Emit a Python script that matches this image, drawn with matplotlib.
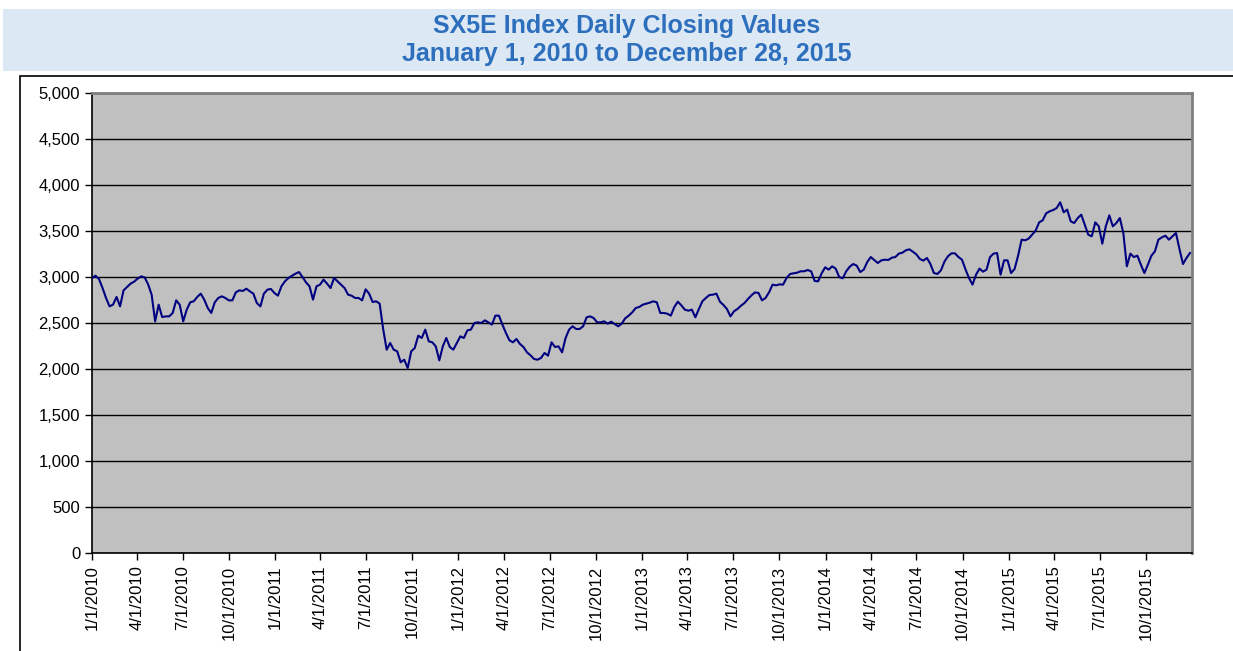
import matplotlib
matplotlib.use("Agg")
import matplotlib.pyplot as plt
import matplotlib.dates as mdates
from matplotlib.patches import Rectangle
from matplotlib.ticker import FuncFormatter, MultipleLocator
import pandas as pd

plt.rcParams['font.family'] = ['Liberation Sans', 'DejaVu Sans']

# weekly closing values, Jan 2010 .. Dec 28 2015
close_2010 = [2989, 3014, 2978, 2880, 2772, 2681, 2700, 2783, 2681, 2855, 2891, 2928, 2949,
              2982, 3007, 2996, 2920, 2808, 2518, 2699, 2565, 2572, 2572, 2609, 2746, 2699,
              2518, 2645, 2725, 2736, 2783, 2819, 2754, 2663, 2609, 2725, 2772, 2790, 2772,
              2746, 2746, 2833, 2855, 2848, 2873, 2844, 2819, 2717, 2681, 2819, 2862, 2870]
close_2011 = [2826, 2797, 2899, 2953, 2989, 3014, 3036, 3054, 3000, 2942, 2899, 2754, 2899,
              2917, 2971, 2928, 2880, 2989, 2953, 2917, 2880, 2808, 2797, 2772, 2772, 2746,
              2866, 2819, 2728, 2736, 2710, 2435, 2210, 2283, 2210, 2192, 2073, 2101, 2011,
              2192, 2228, 2362, 2337, 2428, 2301, 2290, 2246, 2094, 2246, 2337, 2239, 2210]
close_2012 = [2283, 2355, 2337, 2420, 2428, 2500, 2507, 2500, 2529, 2507, 2482, 2580, 2580,
              2482, 2391, 2312, 2290, 2326, 2272, 2239, 2181, 2149, 2109, 2101, 2120, 2174,
              2145, 2290, 2239, 2246, 2181, 2337, 2428, 2464, 2435, 2435, 2464, 2562, 2572,
              2554, 2507, 2507, 2518, 2493, 2514, 2489, 2464, 2493, 2551, 2580, 2616, 2663]
close_2013 = [2674, 2699, 2710, 2721, 2736, 2725, 2609, 2609, 2601, 2580, 2674, 2732, 2692,
              2645, 2634, 2645, 2562, 2652, 2736, 2772, 2804, 2808, 2819, 2732, 2696, 2652,
              2572, 2627, 2652, 2688, 2717, 2761, 2801, 2833, 2826, 2746, 2772, 2833, 2917,
              2909, 2920, 2917, 2989, 3033, 3040, 3047, 3062, 3062, 3076, 3062, 2957, 2953]
close_2014 = [3040, 3105, 3080, 3116, 3091, 3000, 2986, 3062, 3112, 3141, 3123, 3054, 3080,
              3163, 3217, 3185, 3152, 3181, 3188, 3185, 3210, 3217, 3254, 3264, 3290, 3301,
              3275, 3246, 3196, 3178, 3207, 3141, 3043, 3033, 3072, 3167, 3225, 3257, 3257,
              3217, 3188, 3083, 2989, 2917, 3025, 3091, 3058, 3080, 3217, 3254, 3261, 3025]
close_2015 = [3181, 3181, 3043, 3087, 3232, 3406, 3399, 3417, 3460, 3504, 3594, 3616, 3692,
              3714, 3728, 3750, 3812, 3703, 3732, 3605, 3587, 3641, 3677, 3569, 3460, 3442,
              3594, 3551, 3362, 3551, 3670, 3551, 3587, 3641, 3478, 3116, 3254, 3217, 3232,
              3134, 3043, 3134, 3232, 3279, 3406, 3431, 3449, 3406, 3442, 3478, 3304, 3141,
              3207, 3261]

values = close_2010 + close_2011 + close_2012 + close_2013 + close_2014 + close_2015
dates = pd.date_range("2010-01-01", "2015-12-28", periods=len(values))

tick_dates = pd.date_range("2010-01-01", "2015-10-01", freq="QS")
tick_labels = [f"{d.month}/1/{d.year}" for d in tick_dates]

title_line1 = "SX5E Index Daily Closing Values"
title_line2 = "January 1, 2010 to December 28, 2015"

fig = plt.figure(figsize=(12.33, 6.51), dpi=100)

# title band and outer frame
fig.patches.append(Rectangle((0.0024, 0.891), 0.9976, 0.095, transform=fig.transFigure,
                             facecolor="#dce9f5", edgecolor="none", zorder=0))
fig.patches.append(Rectangle((20 / 1233, -0.1), 1.1, 1.1 - 76 / 651, transform=fig.transFigure,
                             facecolor="none", edgecolor="black", linewidth=1.2, zorder=0))
fig.text(0.508, 0.960, title_line1, ha="center", va="center", fontsize=18,
         fontweight="bold", color="#2e6fbd")
fig.text(0.508, 0.917, title_line2, ha="center", va="center", fontsize=18,
         fontweight="bold", color="#2e6fbd")

ax = fig.add_axes([92 / 1233, 1 - 553 / 651, 1100 / 1233, 460 / 651])
ax.set_facecolor("#c0c0c0")
ax.plot(dates, values, color="#000080", linewidth=1.5, zorder=3)

ax.set_ylim(0, 5000)
ax.set_xlim(pd.Timestamp("2010-01-01"), pd.Timestamp("2016-01-01"))
ax.yaxis.set_major_locator(MultipleLocator(500))
ax.yaxis.set_major_formatter(FuncFormatter(lambda v, p: f"{v:,.0f}"))
ax.grid(axis="y", color="black", linewidth=1.0, zorder=1)
ax.set_axisbelow(True)

ax.set_xticks(mdates.date2num(tick_dates))
ax.set_xticklabels(tick_labels, rotation=90)
ax.tick_params(axis="both", labelsize=12, length=5, width=1, color="black", direction="out")
ax.tick_params(axis="x", pad=4)

for side in ["left", "bottom"]:
    ax.spines[side].set_color("black")
    ax.spines[side].set_linewidth(1.2)
for side in ["top", "right"]:
    ax.spines[side].set_color("#808080")
    ax.spines[side].set_linewidth(2)

fig.savefig("out.png", dpi=100)
